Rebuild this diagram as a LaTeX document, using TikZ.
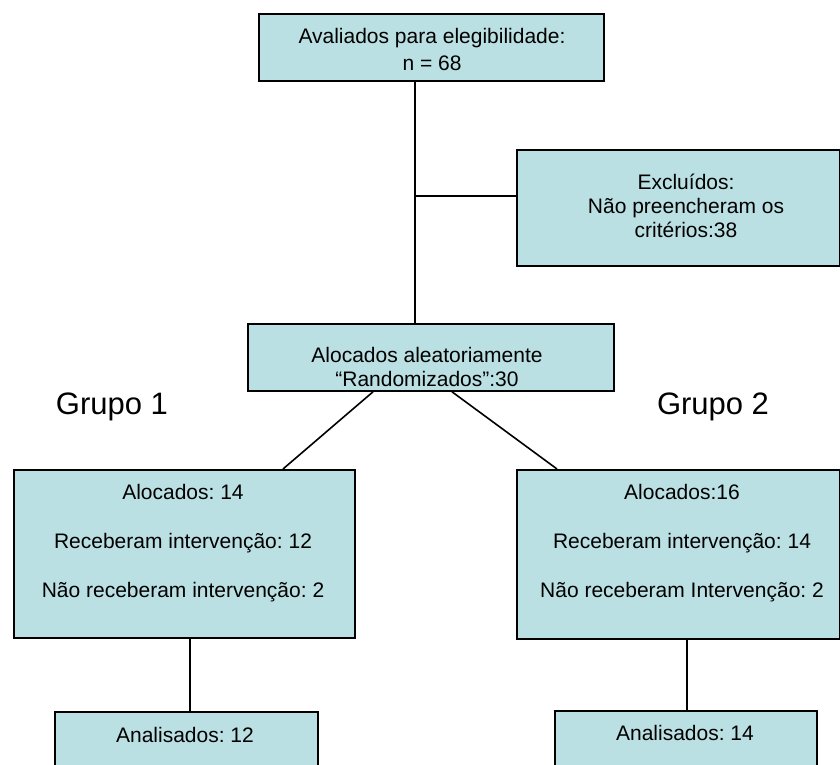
\documentclass[tikz,border=0pt]{standalone}
\usepackage{fontspec}
\setmainfont{Liberation Sans}
\frenchspacing
\definecolor{boxfill}{RGB}{187,224,227}
\tikzset{
  box/.style={draw=black, fill=boxfill, line width=1.8pt, inner sep=0pt, anchor=north west},
  txt/.style={align=center, inner sep=0pt, font=\fontsize{21}{24}\selectfont},
  grp/.style={inner sep=0pt, anchor=base, font=\fontsize{31}{36}\selectfont},
  conn/.style={line width=1.6pt, draw=black},
}
\begin{document}
\begin{tikzpicture}[x=1pt,y=-1pt]
\useasboundingbox (0,0) rectangle (840,765);
\clip (0,0) rectangle (840,765);
% boxes
\node[box, minimum width=345pt, minimum height=67pt] (top) at (258,13) {};
\node[box, minimum width=323pt, minimum height=116pt] (excl) at (516,149) {};
\node[box, minimum width=366pt, minimum height=67pt] (mid) at (247,323) {};
\node[box, minimum width=341pt, minimum height=168pt] (g1) at (13,469) {};
\node[box, minimum width=323pt, minimum height=169pt] (g2) at (516,469) {};
\node[box, minimum width=263pt, minimum height=90pt] (a1) at (54,711) {};
\node[box, minimum width=262pt, minimum height=90pt] (a2) at (554,710) {};
% texts
\node[txt, font=\fontsize{21}{27}\selectfont] (toptext) at (432,49) {Avaliados para elegibilidade:\\n = 68};
\node[txt] (excltext) at (686,206) {Excluídos:\\Não preencheram os\\critérios:38};
\node[txt] (midtext) at (427,367) {Alocados aleatoriamente\\“Randomizados”:30};
\node[txt] (g1text) at (183,543.6) {Alocados: 14\\[25pt]Receberam intervenção: 12\\[25pt]Não receberam intervenção: 2};
\node[txt] (g2text) at (682,543.6) {Alocados:16\\[25pt]Receberam intervenção: 14\\[25pt]Não receberam Intervenção: 2};
\node[txt, anchor=base] (a1text) at (185,742) {Analisados: 12};
\node[txt, anchor=base] (a2text) at (685,740) {Analisados: 14};
\node[grp] (grp1) at (112,414) {Grupo 1};
\node[grp] (grp2) at (713,414) {Grupo 2};
% connector coordinates
\coordinate (j1) at (415,196);
\coordinate (dl1) at (373,390);
\coordinate (dl2) at (283,469);
\coordinate (dr1) at (452,390);
\coordinate (dr2) at (557,469);
\coordinate (v1) at (190,0);
\coordinate (v2) at (687,0);
% connectors
\draw[conn] (top.south -| j1) -- (mid.north -| j1);
\draw[conn] (j1) -- (excl.west |- j1);
\draw[conn] (mid.south -| dl1) -- (g1.north -| dl2);
\draw[conn] (mid.south -| dr1) -- (g2.north -| dr2);
\draw[conn] (g1.south -| v1) -- (a1.north -| v1);
\draw[conn] (g2.south -| v2) -- (a2.north -| v2);
\end{tikzpicture}
\end{document}
